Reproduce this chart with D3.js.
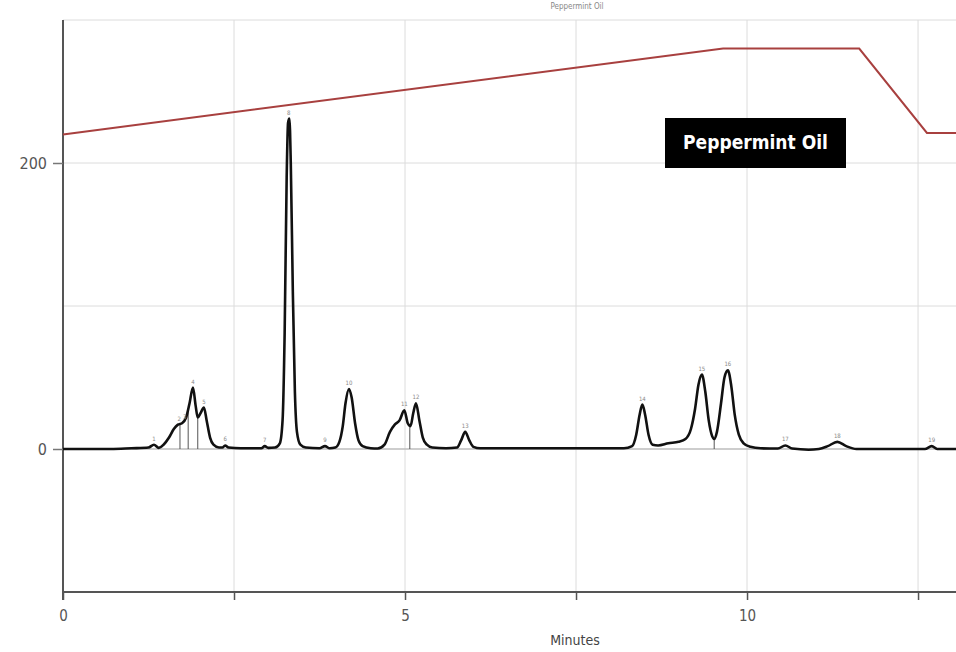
<!DOCTYPE html>
<html>
<head>
<meta charset="utf-8">
<script src="https://cdnjs.cloudflare.com/ajax/libs/d3/7.8.5/d3.min.js"></script>
<style>
  body { margin: 0; background: #ffffff; }
  text { font-family: "Liberation Sans Narrow", "DejaVu Sans Condensed", "Arial Narrow", sans-serif; }
</style>
</head>
<body>
<div id="chart"></div>
<script>
// chromatogram trace: retention time (min) and signal
var traceTime = [0, 0.7, 1.0, 1.25, 1.33, 1.40, 1.47, 1.55, 1.62, 1.68, 1.74, 1.80, 1.85, 1.90, 1.94, 1.97,
  2.01, 2.06, 2.10, 2.15, 2.20, 2.28, 2.33, 2.37, 2.42, 2.6, 2.9, 2.95, 3.0, 3.10, 3.17, 3.21, 3.24,
  3.27, 3.29, 3.31, 3.33, 3.36, 3.39, 3.42, 3.47, 3.55, 3.75, 3.83, 3.9, 3.98, 4.04, 4.09, 4.13, 4.18,
  4.22, 4.27, 4.32, 4.38, 4.5, 4.6, 4.70, 4.78, 4.85, 4.92, 4.99, 5.04, 5.08, 5.12, 5.16, 5.21, 5.26,
  5.32, 5.40, 5.6, 5.76, 5.82, 5.88, 5.94, 6.0, 6.1, 8.2, 8.32, 8.38, 8.43, 8.47, 8.51, 8.56, 8.62,
  8.70, 8.85, 9.0, 9.10, 9.18, 9.24, 9.29, 9.34, 9.39, 9.44, 9.49, 9.52, 9.56, 9.62, 9.67, 9.72, 9.77,
  9.82, 9.88, 9.95, 10.05, 10.2, 10.45, 10.56, 10.66, 10.9, 11.05, 11.18, 11.32, 11.45, 11.6, 12.6,
  12.7, 12.78, 13.1];
var traceSignal = [0, 0, 0.5, 1, 3, 0.8, 3, 8, 14, 17, 18, 22, 32, 43, 30, 22,
  25, 29, 20, 8, 3, 1, 1, 2.5, 1, 0.5, 0.5, 2, 0.8, 1, 4, 20, 80,
  190, 228, 231, 200, 110, 40, 12, 3, 1, 0.5, 2, 0.5, 1, 5, 16, 32, 42,
  36, 18, 6, 2, 0.5, 0.3, 3, 12, 17, 20, 27, 18, 16, 25, 32, 20, 8,
  3, 1, 0.5, 1, 6, 12, 6, 1.5, 0.5, 0.5, 2, 10, 24, 31, 24, 10, 3,
  2.5, 4, 5, 7, 14, 28, 45, 52, 40, 20, 9, 7, 12, 32, 50, 55, 44,
  24, 10, 4, 1.5, 0.5, 0.3, 2.5, 0.3, -0.5, 0, 2, 5, 2, 0, 0,
  2, 0, 0];

// solvent gradient (red line), same y units
var gradTime = [0, 9.65, 11.64, 12.63, 13.1];
var gradValue = [220, 280, 280, 221, 221];

// peak labels (tiny marks above each peak)
var peakTime = [1.33, 1.70, 1.78, 1.90, 2.06, 2.37, 2.95, 3.30, 3.83, 4.18, 4.99, 5.16, 5.88, 8.47, 9.34, 9.72, 10.56, 11.32, 12.70];
var peakHeight = [3, 17, 18, 43, 29, 2.5, 2, 231, 2, 42, 27, 32, 12, 31, 52, 55, 2.5, 5, 2];
var peakName = ["1", "2", "3", "4", "5", "6", "7", "8", "9", "10", "11", "12", "13", "14", "15", "16", "17", "18", "19"];

// integration drop lines
var dropTime = [1.71, 1.83, 1.97, 5.07, 9.52];
var dropHeight = [17, 28, 22, 16, 7];

var xTicks = [0, 2.5, 5, 7.5, 10, 12.5];
var xTickLabels = ["0", "", "5", "", "10", ""];
var yGrid = [-100, 0, 100, 200, 300];
var yTicks = [0, 200];

var width = 956, height = 652;

var svg = d3.select("#chart").append("svg")
  .attr("width", width)
  .attr("height", height);

var x = d3.scaleLinear().domain([0, 13.055]).range([63, 956]);
var y = d3.scaleLinear().domain([-100, 300]).range([592, 20]);

// grid
svg.append("g")
  .selectAll("line")
  .data(xTicks.slice(1))
  .enter()
  .append("line")
  .attr("x1", function(d) { return x(d); })
  .attr("x2", function(d) { return x(d); })
  .attr("y1", y(300))
  .attr("y2", y(-100))
  .attr("stroke", "#dcdcdc")
  .attr("stroke-width", 1);

svg.append("g")
  .selectAll("line")
  .data(yGrid)
  .enter()
  .append("line")
  .attr("x1", x(0))
  .attr("x2", width)
  .attr("y1", function(d) { return y(d); })
  .attr("y2", function(d) { return y(d); })
  .attr("stroke", function(d) { return d == 0 ? "#bdbdbd" : "#dcdcdc"; })
  .attr("stroke-width", function(d) { return d == 0 ? 1.5 : 1; });

// x axis
var xAxis = d3.axisBottom(x)
  .tickValues(xTicks)
  .tickSize(8)
  .tickPadding(10)
  .tickFormat(function(d, i) { return xTickLabels[i]; });

var gx = svg.append("g")
  .attr("transform", "translate(0," + y(-100) + ")")
  .call(xAxis);
gx.select(".domain").attr("stroke", "#555").attr("stroke-width", 2).attr("d", "M" + x(0) + ",0H" + width);
gx.selectAll(".tick line").attr("stroke", "#555").attr("stroke-width", 1.5);
gx.selectAll(".tick text")
  .attr("fill", "#555")
  .style("font-size", "15px");

// y axis
var yAxis = d3.axisLeft(y)
  .tickValues(yTicks)
  .tickSize(10)
  .tickPadding(6)
  .tickFormat(d3.format("d"));

var gy = svg.append("g")
  .attr("transform", "translate(" + x(0) + ",0)")
  .call(yAxis);
gy.select(".domain").attr("stroke", "#555").attr("stroke-width", 2).attr("d", "M0," + y(300) + "V" + (y(-100) + 8));
gy.selectAll(".tick line").attr("stroke", "#777").attr("stroke-width", 1.5);
gy.selectAll(".tick text")
  .attr("fill", "#555")
  .style("font-size", "16px");

svg.append("text")
  .attr("x", 575)
  .attr("y", 645)
  .attr("text-anchor", "middle")
  .attr("fill", "#444")
  .style("font-size", "14px")
  .text("Minutes");

// faint title at top
svg.append("text")
  .attr("x", 577)
  .attr("y", 9)
  .attr("text-anchor", "middle")
  .attr("fill", "#888")
  .style("font-size", "8px")
  .text("Peppermint Oil");

// gradient line
var gradLine = d3.line()
  .x(function(d, i) { return x(gradTime[i]); })
  .y(function(d) { return y(d); });

svg.append("path")
  .datum(gradValue)
  .attr("d", gradLine)
  .attr("fill", "none")
  .attr("stroke", "#a8403f")
  .attr("stroke-width", 2);

// drop lines
svg.append("g")
  .selectAll("line")
  .data(dropTime)
  .enter()
  .append("line")
  .attr("x1", function(d) { return x(d); })
  .attr("x2", function(d) { return x(d); })
  .attr("y1", y(0))
  .attr("y2", function(d, i) { return y(dropHeight[i]); })
  .attr("stroke", "#555")
  .attr("stroke-width", 1);

// chromatogram trace
var traceLine = d3.line()
  .x(function(d, i) { return x(traceTime[i]); })
  .y(function(d) { return y(d); })
  .curve(d3.curveMonotoneX);

svg.append("path")
  .datum(traceSignal)
  .attr("d", traceLine)
  .attr("fill", "none")
  .attr("stroke", "#111")
  .attr("stroke-width", 2.6)
  .attr("stroke-linejoin", "round");

// peak labels
svg.append("g")
  .selectAll("text")
  .data(peakTime)
  .enter()
  .append("text")
  .attr("x", function(d) { return x(d); })
  .attr("y", function(d, i) { return y(peakHeight[i]) - 4; })
  .attr("text-anchor", "middle")
  .attr("fill", "#888")
  .style("font-size", "6px")
  .text(function(d, i) { return peakName[i]; });

// label box
svg.append("rect")
  .attr("x", 665)
  .attr("y", 118)
  .attr("width", 181)
  .attr("height", 50)
  .attr("fill", "#000");

svg.append("text")
  .attr("x", 755.5)
  .attr("y", 149)
  .attr("text-anchor", "middle")
  .attr("fill", "#fff")
  .style("font-size", "19px")
  .style("font-weight", "bold")
  .text("Peppermint Oil");
</script>
</body>
</html>
